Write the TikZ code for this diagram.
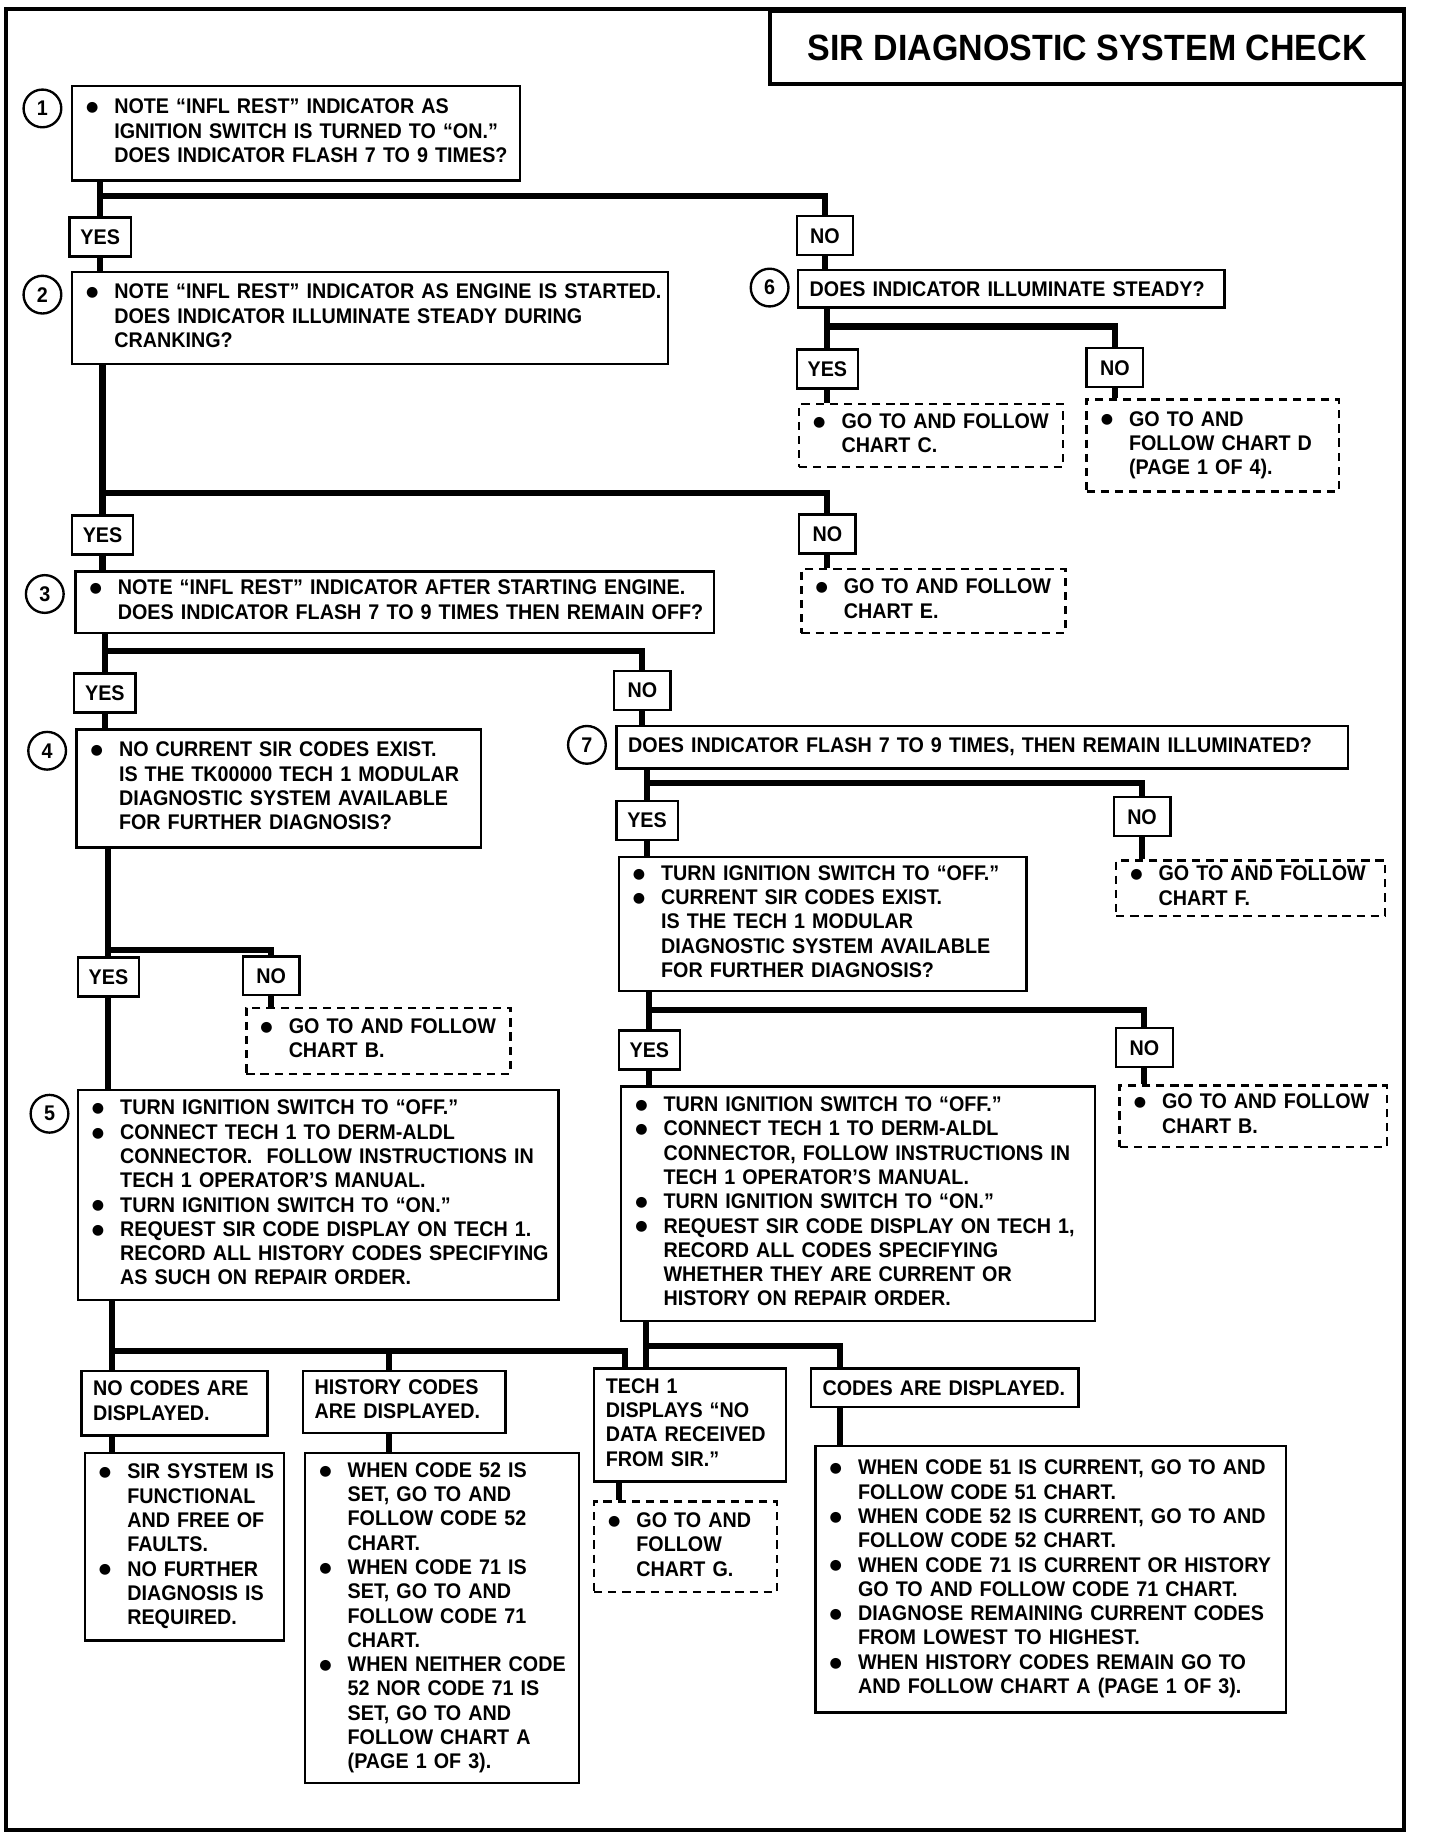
\documentclass[tikz,border=0pt]{standalone}
\usepackage{fontspec}
\setmainfont[FakeStretch=0.93]{Liberation Sans}
\newfontfamily\dotfont{DejaVu Sans}
\newcommand{\bul}{\makebox[13pt][l]{\hspace{1pt}\raisebox{0.9pt}{\dotfont\fontsize{6}{6}\selectfont ●}}}
\newcommand{\ind}{\hspace*{13pt}}
\newcommand{\lines}[1]{\begin{tabular}{@{}l@{}}#1\end{tabular}}
\begin{document}
\begin{tikzpicture}[x=0.5pt,y=-0.5pt,
  every node/.style={font=\fontsize{9}{10.3}\selectfont\bfseries},
  box/.style={draw,line width=1pt,anchor=north west,align=left,inner xsep=5pt,inner ysep=1pt},
  dbox/.style={box,dash pattern=on 3.5pt off 2.5pt},
  lab/.style={draw,line width=1pt,fill=white,minimum height=16.5pt,inner sep=1pt},
  yesbox/.style={lab,minimum width=26pt},
  nobox/.style={lab,minimum width=24pt},
  num/.style={draw,circle,line width=1pt,minimum size=16pt,inner sep=0pt},
  conn/.style={line width=2.6pt}]
\useasboundingbox (0,0) rectangle (1222,1568);
\draw[line width=1.7pt] (5,8) rectangle (1191,1553);
\node[draw,line width=1.5pt,anchor=north west,minimum width=269pt,minimum height=31pt,inner sep=0pt,
  font=\fontsize{15.5}{18}\selectfont\bfseries] (title) at (652,8) {SIR DIAGNOSTIC SYSTEM CHECK};

\node[num] (n1) at (36,92) {1};
\node[num] (n2) at (36,250) {2};
\node[num] (n3) at (38,504) {3};
\node[num] (n4) at (40,637) {4};
\node[num] (n5) at (42,945) {5};
\node[num] (n6) at (653,244) {6};
\node[num] (n7) at (498,632) {7};

\node[box,text width=180pt,minimum height=40pt] (b1) at (60,72)
  {\lines{\bul NOTE ``INFL REST'' INDICATOR AS\\ \ind IGNITION SWITCH IS TURNED TO ``ON.''\\ \ind DOES INDICATOR FLASH 7 TO 9 TIMES?}};
\node[box,text width=243pt,minimum height=39pt] (b2) at (60,230)
  {\lines{\bul NOTE ``INFL REST'' INDICATOR AS ENGINE IS STARTED.\\ \ind DOES INDICATOR ILLUMINATE STEADY DURING\\ \ind CRANKING?}};
\node[box,text width=171pt,minimum height=16pt] (b6) at (676,228) {DOES INDICATOR ILLUMINATE STEADY?};
\node[dbox,text width=102pt,minimum height=26.5pt] (chartC) at (677,342) {\lines{\bul GO TO AND FOLLOW\\ \ind CHART C.}};
\node[dbox,text width=97pt,minimum height=39pt] (chartD) at (921,338) {\lines{\bul GO TO AND\\ \ind FOLLOW CHART D\\ \ind (PAGE 1 OF 4).}};
\node[dbox,text width=102pt,minimum height=27pt] (chartE) at (679,482) {\lines{\bul GO TO AND FOLLOW\\ \ind CHART E.}};
\node[box,text width=261pt,minimum height=26pt] (b3) at (63,484)
  {\lines{\bul NOTE ``INFL REST'' INDICATOR AFTER STARTING ENGINE.\\ \ind DOES INDICATOR FLASH 7 TO 9 TIMES THEN REMAIN OFF?}};
\node[box,text width=161.5pt,minimum height=50pt] (b4) at (64,618)
  {\lines{\bul NO CURRENT SIR CODES EXIST.\\ \ind IS THE TK00000 TECH 1 MODULAR\\ \ind DIAGNOSTIC SYSTEM AVAILABLE\\ \ind FOR FURTHER DIAGNOSIS?}};
\node[box,text width=300.5pt,minimum height=18pt] (b7) at (522,615) {DOES INDICATOR FLASH 7 TO 9 TIMES, THEN REMAIN ILLUMINATED?};
\node[dbox,text width=104pt,minimum height=23.5pt] (chartF) at (946,729) {\lines{\bul GO TO AND FOLLOW\\ \ind CHART F.}};
\node[box,text width=163pt,minimum height=57pt] (b7y) at (524,726)
  {\lines{\bul TURN IGNITION SWITCH TO ``OFF.''\\ \bul CURRENT SIR CODES EXIST.\\ \ind IS THE TECH 1 MODULAR\\ \ind DIAGNOSTIC SYSTEM AVAILABLE\\ \ind FOR FURTHER DIAGNOSIS?}};
\node[dbox,text width=103.5pt,minimum height=26pt] (chartBr) at (949,920) {\lines{\bul GO TO AND FOLLOW\\ \ind CHART B.}};
\node[box,text width=191pt,minimum height=99.5pt] (b7yy) at (526,921)
  {\lines{\bul TURN IGNITION SWITCH TO ``OFF.''\\ \bul CONNECT TECH 1 TO DERM-ALDL\\ \ind CONNECTOR, FOLLOW INSTRUCTIONS IN\\ \ind TECH 1 OPERATOR'S MANUAL.\\
   \bul TURN IGNITION SWITCH TO ``ON.''\\ \bul REQUEST SIR CODE DISPLAY ON TECH 1,\\ \ind RECORD ALL CODES SPECIFYING\\ \ind WHETHER THEY ARE CURRENT OR\\ \ind HISTORY ON REPAIR ORDER.}};
\node[dbox,text width=102pt,minimum height=28pt] (chartBl) at (208,854) {\lines{\bul GO TO AND FOLLOW\\ \ind CHART B.}};
\node[box,text width=194pt,minimum height=89pt] (b5) at (65,924)
  {\lines{\bul TURN IGNITION SWITCH TO ``OFF.''\\ \bul CONNECT TECH 1 TO DERM-ALDL\\ \ind CONNECTOR.\ \ FOLLOW INSTRUCTIONS IN\\ \ind TECH 1 OPERATOR'S MANUAL.\\
   \bul TURN IGNITION SWITCH TO ``ON.''\\ \bul REQUEST SIR CODE DISPLAY ON TECH 1.\\ \ind RECORD ALL HISTORY CODES SPECIFYING\\ \ind AS SUCH ON REPAIR ORDER.}};
\node[box,text width=69pt,minimum height=27.5pt] (nocodes) at (68,1162) {\lines{NO CODES ARE\\ DISPLAYED.}};
\node[box,text width=76pt,minimum height=26.5pt] (history) at (256,1162) {\lines{HISTORY CODES\\ ARE DISPLAYED.}};
\node[box,text width=71.5pt,minimum height=48pt] (tech1) at (503,1160) {\lines{TECH 1\\ DISPLAYS ``NO\\ DATA RECEIVED\\ FROM SIR.''}};
\node[box,text width=103.5pt,minimum height=16.5pt] (codes) at (687,1160) {CODES ARE DISPLAYED.};
\node[box,text width=74.5pt,minimum height=79.5pt] (okbox) at (71,1232)
  {\lines{\bul SIR SYSTEM IS\\ \ind FUNCTIONAL\\ \ind AND FREE OF\\ \ind FAULTS.\\ \bul NO FURTHER\\ \ind DIAGNOSIS IS\\ \ind REQUIRED.}};
\node[box,text width=106pt,minimum height=140pt] (histbox) at (258,1232)
  {\lines{\bul WHEN CODE 52 IS\\ \ind SET, GO TO AND\\ \ind FOLLOW CODE 52\\ \ind CHART.\\ \bul WHEN CODE 71 IS\\ \ind SET, GO TO AND\\ \ind FOLLOW CODE 71\\ \ind CHART.\\
   \bul WHEN NEITHER CODE\\ \ind 52 NOR CODE 71 IS\\ \ind SET, GO TO AND\\ \ind FOLLOW CHART A\\ \ind (PAGE 1 OF 3).}};
\node[dbox,text width=67.5pt,minimum height=38.5pt] (chartG) at (503,1273) {\lines{\bul GO TO AND\\ \ind FOLLOW\\ \ind CHART G.}};
\node[box,text width=189.5pt,minimum height=113pt] (codebox) at (691,1226)
  {\lines{\bul WHEN CODE 51 IS CURRENT, GO TO AND\\ \ind FOLLOW CODE 51 CHART.\\ \bul WHEN CODE 52 IS CURRENT, GO TO AND\\ \ind FOLLOW CODE 52 CHART.\\
   \bul WHEN CODE 71 IS CURRENT OR HISTORY\\ \ind GO TO AND FOLLOW CODE 71 CHART.\\ \bul DIAGNOSE REMAINING CURRENT CODES\\ \ind FROM LOWEST TO HIGHEST.\\
   \bul WHEN HISTORY CODES REMAIN GO TO\\ \ind AND FOLLOW CHART A (PAGE 1 OF 3).}};

\node[yesbox] (y1) at (85,201) {YES};
\node[nobox] (no1) at (700,200) {NO};
\node[yesbox] (y6) at (702,313) {YES};
\node[nobox] (no6) at (946,312) {NO};
\node[yesbox] (y2) at (87,454) {YES};
\node[nobox] (no2) at (702,453) {NO};
\node[yesbox] (y3) at (89,588) {YES};
\node[nobox] (no3) at (545,586) {NO};
\node[yesbox] (y7) at (549,696) {YES};
\node[nobox] (no7) at (969,693) {NO};
\node[yesbox] (y7b) at (551,891) {YES};
\node[nobox] (no7b) at (971,889) {NO};
\node[yesbox] (y4) at (92,829) {YES};
\node[nobox] (no4) at (230,828) {NO};

\coordinate (j1) at (85,166);
\coordinate (j2) at (702,277);
\coordinate (j3) at (87,418);
\coordinate (j4) at (89,552);
\coordinate (j5) at (549,664);
\coordinate (j6) at (551,857);
\coordinate (j7) at (92,806);
\coordinate (j8) at (95,1146);
\coordinate (j9) at (330,1146);
\coordinate (j10) at (530,1146);
\coordinate (j11) at (548,1142);
\coordinate (j12) at (713,1142);
\coordinate (j13) at (525,1265);

\draw[conn] (b1.south -| j1) -- (y1.north);
\draw[conn] (j1) -| (no1.north);
\draw[conn] (y1.south) -- (y1.south |- b2.north);
\draw[conn] (no1.south) -- (no1.south |- b6.north);
\draw[conn] (b6.south -| j2) -- (y6.north);
\draw[conn] (j2) -| (no6.north);
\draw[conn] (y6.south) -- (y6.south |- chartC.north);
\draw[conn] (no6.south) -- (no6.south |- chartD.north);
\draw[conn] (b2.south -| j3) -- (y2.north);
\draw[conn] (j3) -| (no2.north);
\draw[conn] (y2.south) -- (y2.south |- b3.north);
\draw[conn] (no2.south) -- (no2.south |- chartE.north);
\draw[conn] (b3.south -| j4) -- (y3.north);
\draw[conn] (j4) -| (no3.north);
\draw[conn] (y3.south) -- (y3.south |- b4.north);
\draw[conn] (no3.south) -- (no3.south |- b7.north);
\draw[conn] (b7.south -| j5) -- (y7.north);
\draw[conn] (j5) -| (no7.north);
\draw[conn] (y7.south) -- (y7.south |- b7y.north);
\draw[conn] (no7.south) -- (no7.south |- chartF.north);
\draw[conn] (b7y.south -| j6) -- (y7b.north);
\draw[conn] (j6) -| (no7b.north);
\draw[conn] (y7b.south) -- (y7b.south |- b7yy.north);
\draw[conn] (no7b.south) -- (no7b.south |- chartBr.north);
\draw[conn] (b4.south -| j7) -- (y4.north);
\draw[conn] (j7) -| (no4.north);
\draw[conn] (y4.south) -- (y4.south |- b5.north);
\draw[conn] (no4.south) -- (no4.south |- chartBl.north);
\draw[conn] (b5.south -| j8) -- (j8 |- nocodes.north);
\draw[conn] (j8) -- (j10) -- (j10 |- tech1.north);
\draw[conn] (j9) -- (j9 |- history.north);
\draw[conn] (b7yy.south -| j11) -- (j11 |- tech1.north);
\draw[conn] (j11) -- (j12) -- (j12 |- codes.north);
\draw[conn] (nocodes.south -| j8) -- (j8 |- okbox.north);
\draw[conn] (history.south -| j9) -- (j9 |- histbox.north);
\draw[conn] (tech1.south -| j13) -- (j13 |- chartG.north);
\draw[conn] (codes.south -| j12) -- (j12 |- codebox.north);
\end{tikzpicture}
\end{document}
